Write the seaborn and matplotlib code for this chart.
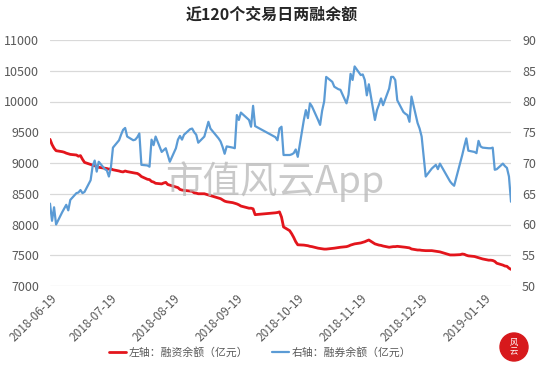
import seaborn as sns
import matplotlib.pyplot as plt
import matplotlib.dates as mdates
import pandas as pd
from matplotlib.patches import Ellipse

sns.set_style('white')
plt.rcParams['font.family'] = ['Noto Sans CJK SC', 'DejaVu Sans']

# 交易日（剔除节假日）
holidays = ['2018-09-24', '2018-10-01', '2018-10-02', '2018-10-03', '2018-10-04',
            '2018-10-05', '2018-12-31', '2019-01-01']
dates = pd.bdate_range('2018-06-19', '2019-02-01', freq='C', holidays=holidays)

# 左轴：融资余额（亿元）
rz = [9385, 9300, 9240, 9200, 9184, 9175, 9160, 9150, 9140,  # 6月
      9130, 9110, 9120, 9060, 9010, 8975, 8965, 8955, 8950, 8930, 8915, 8910,
      8900, 8905, 8890, 8870, 8860, 8855, 8870, 8860, 8840, 8835,  # 7月
      8830, 8810, 8780, 8735, 8730, 8700, 8690, 8670, 8660, 8675, 8685, 8650,
      8640, 8610, 8600, 8570, 8560, 8555, 8545, 8540, 8515, 8510, 8500,  # 8月
      8500, 8490, 8480, 8470, 8460, 8430, 8420, 8400, 8380, 8370, 8355, 8345,
      8335, 8320, 8300, 8265, 8265, 8255, 8160,  # 9月
      8190, 8195, 8205, 8120, 7960, 7900, 7850, 7790, 7720, 7670, 7665, 7660,
      7655, 7645, 7640, 7615, 7610, 7605,  # 10月
      7600, 7600, 7610, 7615, 7620, 7625, 7630, 7640, 7650, 7665, 7675, 7685,
      7700, 7710, 7720, 7735, 7748, 7685, 7675, 7665, 7660, 7650,  # 11月
      7630, 7635, 7640, 7640, 7645, 7635, 7630, 7625, 7620, 7602, 7585, 7585,
      7580, 7578, 7575, 7575, 7570, 7565, 7560, 7555,  # 12月
      7505, 7505, 7505, 7510, 7520, 7515, 7500, 7490, 7480, 7470, 7460, 7450,
      7440, 7420, 7420, 7415, 7400, 7370, 7340, 7325, 7320, 7290,  # 1月
      7270]

# 右轴：融券余额（亿元）
rq = [63.4, 60.6, 62.8, 60.0, 62.0, 62.6, 63.2, 62.3, 64.0,
      65.1, 65.2, 65.6, 65.1, 65.3, 67.2, 69.5, 70.4, 68.6, 70.2, 69.0, 68.8,
      67.8, 69.3, 72.5, 73.7, 74.6, 75.4, 75.7, 74.3, 73.7, 73.8,
      74.2, 74.8, 69.7, 69.6, 69.4, 73.8, 72.9, 74.3, 71.8, 72.1, 72.4, 71.3,
      70.2, 72.4, 73.8, 74.4, 73.8, 74.6, 75.5, 75.6, 75.0, 74.6, 73.3,
      74.3, 75.5, 76.7, 75.6, 75.2, 74.0, 73.5, 72.6, 71.5, 72.7, 72.5, 72.4,
      77.8, 77.0, 78.2, 77.0, 75.9, 79.3, 76.0,
      74.2, 73.7, 75.6, 75.9, 71.3, 71.3, 71.4, 71.6, 72.2, 71.0, 77.0, 78.6,
      77.3, 79.7, 79.2, 77.0, 76.2, 78.5,
      80.0, 84.0, 83.2, 82.4, 82.2, 82.0, 81.9, 79.7, 81.1, 84.5, 83.5, 85.7,
      84.3, 84.4, 83.5, 81.0, 82.8, 77.0, 78.6, 79.5, 80.5, 79.4,
      82.1, 84.0, 84.0, 83.5, 80.2, 78.3, 78.0, 77.8, 76.7, 80.8, 76.5, 75.6,
      74.3, 71.0, 67.8, 69.1, 69.4, 69.7, 69.0, 69.9,
      67.0, 66.6, 66.3, 70.0, 71.3, 72.7, 74.0, 72.0, 71.8, 71.6, 73.6, 72.7,
      72.5, 72.4, 72.4, 72.5, 68.9, 69.0, 69.9, 69.5, 69.2, 67.8,
      63.7]

tick_dates = pd.to_datetime(['2018-06-19', '2018-07-19', '2018-08-19', '2018-09-19',
                             '2018-10-19', '2018-11-19', '2018-12-19', '2019-01-19'])

red = '#e3151c'
blue = '#5b9bd5'
txt = '#595959'

fig = plt.figure(figsize=(5.43, 3.72), dpi=100)
ax = fig.add_axes([50 / 543, 86 / 372, 461 / 543, 246 / 372])
ax2 = ax.twinx()

sns.lineplot(x=dates, y=rz, ax=ax, color=red, lw=2, label='左轴：融资余额（亿元）', legend=False)
sns.lineplot(x=dates, y=rq, ax=ax2, color=blue, lw=1.6, label='右轴：融券余额（亿元）', legend=False)

ax.set_ylim(7000, 11000)
ax.set_yticks(range(7000, 11001, 500))
ax2.set_ylim(50, 90)
ax2.set_yticks(range(50, 91, 5))
ax.set_xlim(dates[0], dates[-1])
ax.set_xticks(tick_dates)
ax.xaxis.set_major_formatter(mdates.DateFormatter('%Y-%m-%d'))
ax.grid(axis='y', color='#d9d9d9', lw=0.9)
ax.set_axisbelow(True)
ax.set_xlabel('')
ax.set_ylabel('')
ax2.set_ylabel('')

for a in (ax, ax2):
    for s in a.spines.values():
        s.set_visible(False)
    a.tick_params(length=0, labelsize=9, colors=txt)
ax.tick_params(axis='y', pad=8)
ax2.tick_params(axis='y', pad=8)
ax.tick_params(axis='x', labelsize=8.5, pad=4)
for lab in ax.get_xticklabels():
    lab.set_rotation(45)
    lab.set_ha('right')
    lab.set_rotation_mode('anchor')

fig.text(272 / 543, 1 - 15 / 372, '近120个交易日两融余额', ha='center', va='center',
         fontsize=11.5, fontweight='bold', color='#262626')

# 水印
fig.text(275 / 543, 1 - 182 / 372, '市值风云App', ha='center', va='center',
         fontsize=27, color='#b8b8b8', alpha=0.75)

handles = ax.lines[:1] + ax2.lines[:1]
fig.legend(handles, [h.get_label() for h in handles], loc='center', ncol=2,
           bbox_to_anchor=(260 / 543, 1 - 352 / 372), frameon=False, fontsize=7.8,
           labelcolor=txt, handlelength=1.6, handletextpad=0.2, columnspacing=2.2)

# 角标
logo = Ellipse((514 / 543, 1 - 347 / 372), 28 / 543, 28 / 372, transform=fig.transFigure,
               color='#d7191c', zorder=5)
fig.patches.append(logo)
fig.text(514 / 543, 1 - 347 / 372, '风\n云', ha='center', va='center', fontsize=6,
         color='white', linespacing=1.0, zorder=6)

fig.savefig('out.png', dpi=100)
